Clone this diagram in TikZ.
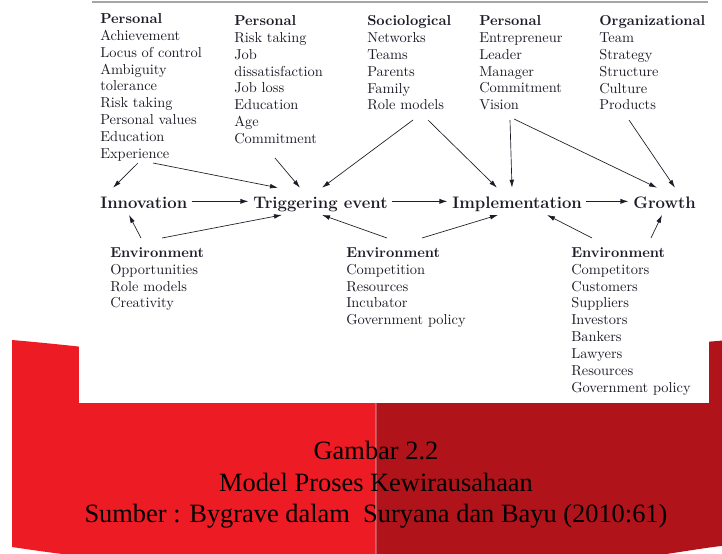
\documentclass[tikz,border=0pt]{standalone}
\usepackage{fontspec}
\newfontfamily\capfont{Liberation Serif}
\usetikzlibrary{arrows.meta,positioning}
\definecolor{pageL}{RGB}{237,28,36}
\definecolor{pageR}{RGB}{176,20,26}
\definecolor{ink}{RGB}{28,28,40}
\tikzset{
  factor/.style={anchor=north west,inner sep=0pt,align=left,text=ink,font=\fontsize{10.8}{12.7}\selectfont},
  stage/.style={anchor=base west,inner xsep=3pt,inner ysep=0pt,text height=15pt,text depth=5pt,text=ink,font=\fontsize{12.5}{15}\selectfont\bfseries},
  link/.style={-{Latex[length=6pt,width=3.5pt]},line width=0.5pt,draw=ink},
  flow/.style={-{Latex[length=6.5pt,width=4pt]},line width=1.1pt,draw=ink},
  caption/.style={text=black,font=\capfont\fontsize{19.8}{24}\selectfont,inner sep=0pt,anchor=base}
}
\begin{document}
\begin{tikzpicture}[x=0.75pt,y=-0.75pt]
\useasboundingbox (0,0) rectangle (722,554);
\fill[white] (0,0) rectangle (722,554);
% red book pages behind the figure
\fill[pageL] (12,340) .. controls (150,352) and (300,375) .. (376,398) -- (376,560) -- (120,560) .. controls (60,554) .. (12,547) -- cycle;
\fill[pageR] (376,398) .. controls (470,372) and (620,348) .. (730,340) -- (730,545) .. controls (700,548) and (660,556) .. (620,560) -- (376,560) -- cycle;
\draw[white,opacity=0.25,line width=0.8pt] (376,403) -- (376,554);
\fill[white] (79,0) rectangle (709,403);
\draw[gray!70,line width=1.1pt] (92,2) -- (708,2);
% factors
\node[factor] (pers1) at (100,13) {\textbf{Personal}\\Achievement\\Locus of control\\Ambiguity\\tolerance\\Risk taking\\Personal values\\Education\\Experience};
\node[factor] (pers2) at (234,15) {\textbf{Personal}\\Risk taking\\Job\\dissatisfaction\\Job loss\\Education\\Age\\Commitment};
\node[factor] (socio) at (367,15) {\textbf{Sociological}\\Networks\\Teams\\Parents\\Family\\Role models};
\node[factor] (pers3) at (479,15) {\textbf{Personal}\\Entrepreneur\\Leader\\Manager\\Commitment\\Vision};
\node[factor] (organ) at (599,15) {\textbf{Organizational}\\Team\\Strategy\\Structure\\Culture\\Products};
\node[factor] (env1) at (110,247) {\textbf{Environment}\\Opportunities\\Role models\\Creativity};
\node[factor] (env2) at (346,247) {\textbf{Environment}\\Competition\\Resources\\Incubator\\Government policy};
\node[factor] (env3) at (571,247) {\textbf{Environment}\\Competitors\\Customers\\Suppliers\\Investors\\Bankers\\Lawyers\\Resources\\Government policy};
% stages
\node[stage] (innov) at (96,208) {Innovation};
\node[stage] (trig) at (249,208) {Triggering event};
\node[stage] (impl) at (448,208) {Implementation};
\node[stage] (grow) at (629,208) {Growth};
\draw[flow] (innov.east) -- (trig.west);
\draw[flow] (trig.east) -- (impl.west);
\draw[flow] (impl.east) -- (grow.west);
% influences
\draw[link] ([shift={(38,150)}]pers1.north west) -- ([shift={(17,0)}]innov.north west);
\draw[link] ([shift={(53,150)}]pers1.north west) -- ([shift={(29,0)}]trig.north west);
\draw[link] ([shift={(41,143)}]pers2.north west) -- ([shift={(51,0)}]trig.north west);
\draw[link] ([shift={(46,105)}]socio.north west) -- ([shift={(73,0)}]trig.north west);
\draw[link] ([shift={(61,105)}]socio.north west) -- ([shift={(49,0)}]impl.north west);
\draw[link] ([shift={(31,105)}]pers3.north west) -- ([shift={(64,0)}]impl.north west);
\draw[link] ([shift={(35,104)}]pers3.north west) -- ([shift={(28,0)}]grow.north west);
\draw[link] ([shift={(30,105)}]organ.north west) -- ([shift={(46,0)}]grow.north west);
\draw[link] ([shift={(31,-9)}]env1.north west) -- ([shift={(33,0)}]innov.south west);
\draw[link] ([shift={(52,-9)}]env1.north west) -- ([shift={(33,0)}]trig.south west);
\draw[link] ([shift={(41,-9)}]env2.north west) -- ([shift={(73,0)}]trig.south west);
\draw[link] ([shift={(76,-9)}]env2.north west) -- ([shift={(50,0)}]impl.south west);
\draw[link] ([shift={(21,-9)}]env3.north west) -- ([shift={(99,0)}]impl.south west);
\draw[link] ([shift={(80,-9)}]env3.north west) -- ([shift={(33,0)}]grow.south west);
% caption
\node[caption] (cap1) at (376,459) {Gambar 2.2};
\node[caption] (cap2) at (376,491) {Model Proses Kewirausahaan};
\node[caption] (cap3) at (376,522) {Sumber : Bygrave dalam\ \ Suryana dan Bayu (2010:61)};
\end{tikzpicture}
\end{document}
